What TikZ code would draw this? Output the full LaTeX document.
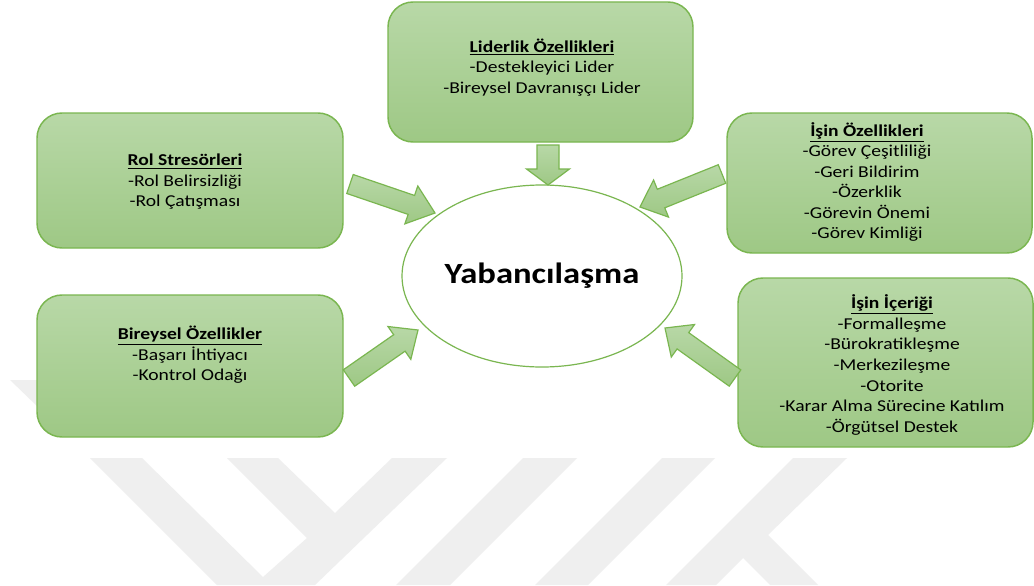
\documentclass[tikz,border=0pt]{standalone}
\usepackage{fontspec}
\setmainfont{Carlito}[FakeStretch=1.18]
\usetikzlibrary{calc,shapes.geometric}
\definecolor{boxtop}{RGB}{184,216,167}
\definecolor{boxbot}{RGB}{158,200,133}
\definecolor{boxline}{RGB}{122,182,80}
\definecolor{wm}{RGB}{239,239,239}
\tikzset{
  boxsize/.style 2 args={minimum width=#1*0.75pt, minimum height=#2*0.75pt},
  box/.style={draw=boxline, line width=1.1pt, rounded corners=18.75pt,
    top color=boxtop, bottom color=boxbot, inner sep=0pt},
  txt/.style={align=center, inner sep=0pt, text=black,
    font=\fontsize{12.45}{15.4}\selectfont},
  barrow/.style={draw=boxline, line width=0.9pt, line join=miter,
    top color=boxtop, bottom color=boxbot},
  centre/.style={ellipse, draw=boxline, line width=0.9pt, fill=white,
    inner sep=0pt, font=\fontsize{22}{26}\selectfont\bfseries},
  wmark/.style={fill=wm, draw=none}
}
% #1 tail, #2 tip, #3 shaft half width, #4 head half width, #5 head length
\newcommand\blockarrow[5]{%
  \path ($(#2)!#5!(#1)$) coordinate (hb);
  \draw[barrow] ($(#1)!#3!90:(#2)$) -- ($(hb)!#3!90:(#2)$)
    -- ($(hb)!#4!90:(#2)$) -- (#2) -- ($(hb)!#4!-90:(#2)$)
    -- ($(hb)!#3!-90:(#2)$) -- ($(#1)!#3!-90:(#2)$) -- cycle;
}
\begin{document}
\begin{tikzpicture}[x=0.75pt,y=-0.75pt]
\useasboundingbox (0,0) rectangle (1034,585);
\fill[white] (0,0) rectangle (1034,585);
% watermark
\fill[wmark] (10,380) -- (37,380) -- (37,406) -- cycle;
\fill[wmark] (90,458) -- (142,458) -- (263,577) -- (307,538) -- (227,458)
  -- (278,458) -- (335,513) -- (392,458) -- (447,458) -- (315,585)
  -- (217,585) -- cycle;
\fill[wmark] (523,458) -- (577,458) -- (450,585) -- (396,585) -- cycle;
\fill[wmark] (662,458) -- (715,458) -- (588,585) -- (535,585) -- cycle;
\fill[wmark] (793,458) -- (847,458) -- (768,535) -- (818,585) -- (770,585)
  -- (743,558) -- (716,585) -- (666,585) -- cycle;
% boxes
\node[box, boxsize={305}{140}] (lid) at (540.5,72) {};
\node[box, boxsize={306}{135}] (rol) at (190,180.5) {};
\node[box, boxsize={305}{140}] (isoz) at (879.5,183) {};
\node[box, boxsize={306}{142}] (bir) at (190,366) {};
\node[box, boxsize={295}{169}] (ice) at (885.5,362.5) {};
% texts
\node[txt] (lidt) at (542,67.5) {\textbf{\underline{Liderlik Özellikleri}}\\-Destekleyici Lider\\-Bireysel Davranışçı Lider};
\node[txt] (rolt) at (185,182) {\textbf{\underline{Rol Stresörleri}}\\-Rol Belirsizliği\\-Rol Çatışması};
\node[txt] (isozt) at (867,182) {\textbf{\underline{İşin Özellikleri}}\\-Görev Çeşitliliği\\-Geri Bildirim\\-Özerklik\\-Görevin Önemi\\-Görev Kimliği};
\node[txt] (birt) at (190,355) {\textbf{\underline{Bireysel Özellikler}}\\-Başarı İhtiyacı\\-Kontrol Odağı};
\node[txt] (icet) at (892,365) {\textbf{\underline{İşin İçeriği}}\\-Formalleşme\\-Bürokratikleşme\\-Merkezileşme\\-Otorite\\-Karar Alma Sürecine Katılım\\-Örgütsel Destek};
% centre
\node[centre, minimum width=280*0.75pt, minimum height=182*0.75pt] (Y) at (542,276) {Yabancılaşma};
% arrow ends
\coordinate (a1s) at (548,145);  \coordinate (a1e) at (548,185);
\coordinate (a2s) at (350,184);  \coordinate (a2e) at (435,213);
\coordinate (a3s) at (722,174);  \coordinate (a3e) at (640,207);
\coordinate (a4s) at (349,378);  \coordinate (a4e) at (418,330);
\coordinate (a5s) at (735,378);  \coordinate (a5e) at (665,328);
\blockarrow{a1s}{a1e}{8.25pt}{16.1pt}{12pt}
\blockarrow{a2s}{a2e}{7.5pt}{15pt}{18.75pt}
\blockarrow{a3s}{a3e}{7.5pt}{15pt}{17pt}
\blockarrow{a4s}{a4e}{7.5pt}{15pt}{17pt}
\blockarrow{a5s}{a5e}{7.5pt}{15pt}{16.5pt}
\end{tikzpicture}
\end{document}
